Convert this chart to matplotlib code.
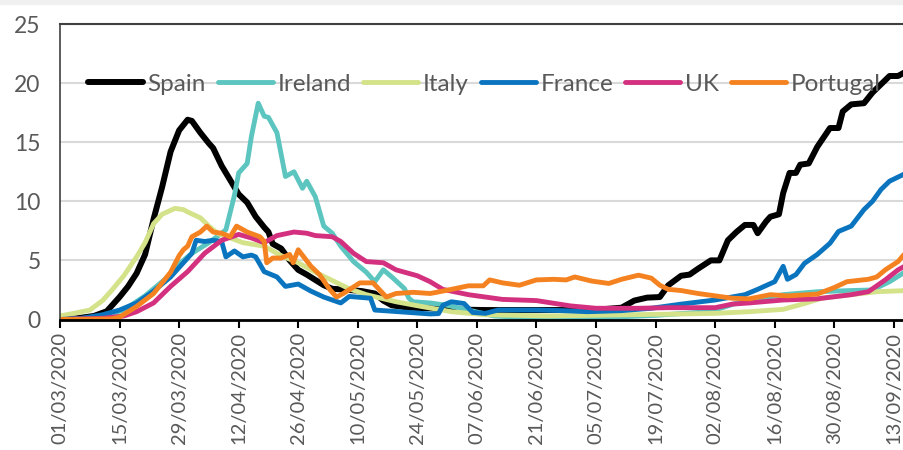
import matplotlib
matplotlib.use("Agg")
from matplotlib import pyplot as plt
from matplotlib.patches import Rectangle

# days since 01/03/2020 and values
spain_day = [0, 4, 8, 11, 14, 16, 18, 20, 22, 24, 26, 28, 30, 31, 33, 35, 36, 38, 40, 42,
             44, 46, 48, 49, 50, 52, 54, 56, 58, 60, 62, 64, 68, 71, 74, 76, 78, 82, 87, 92,
             100, 110, 120, 127, 132, 135, 138, 141, 143, 146, 148, 150, 153, 155, 157, 159,
             161, 163, 164, 166, 167, 169, 170, 171.5, 173, 174, 176, 178, 181, 183, 184, 186,
             189, 191, 193, 195, 197, 199]
spain_val = [0.05, 0.1, 0.3, 0.7, 1.9, 2.8, 3.9, 5.5, 8.5, 11.2, 14.2, 16.0, 16.9, 16.8, 15.8,
             14.9, 14.5, 13.0, 11.8, 10.6, 9.9, 8.7, 7.8, 7.4, 6.4, 6.0, 5.0, 4.2, 3.8, 3.35,
             2.9, 2.6, 2.5, 2.4, 2.2, 1.6, 1.2, 1.0, 0.95, 0.85, 0.8, 0.8, 0.8, 0.85, 1.0, 1.6,
             1.85, 1.9, 2.9, 3.7, 3.8, 4.3, 5.0, 5.0, 6.7, 7.4, 8.0, 8.0, 7.3, 8.3, 8.7, 8.9,
             10.7, 12.4, 12.4, 13.1, 13.2, 14.6, 16.2, 16.2, 17.6, 18.2, 18.3, 19.2, 19.9,
             20.6, 20.6, 21.0]

ireland_day = [0, 5, 10, 15, 20, 25, 28, 31, 35, 38, 39, 41, 42, 44, 45, 46.6, 48, 49, 51, 53,
               55, 57, 58, 60, 62, 64, 66, 69, 72, 74, 76, 78, 81, 82, 83, 87, 91, 96, 102,
               110, 120, 130, 140, 150, 154, 160, 163, 170, 178, 186, 191, 195, 199]
ireland_val = [0, 0.05, 0.3, 0.8, 2.0, 3.5, 4.7, 5.6, 6.5, 7.3, 7.6, 10.5, 12.4, 13.2, 15.5,
               18.3, 17.2, 17.1, 15.8, 12.1, 12.5, 11.1, 11.7, 10.4, 7.9, 7.3, 6.2, 4.9, 4.0,
               3.2, 4.2, 3.6, 2.6, 1.8, 1.5, 1.4, 1.2, 0.8, 0.3, 0.15, 0.1, 0.2, 0.35, 0.6,
               0.8, 1.5, 1.7, 2.1, 2.35, 2.45, 2.5, 3.2, 4.1]

italy_day = [0, 3, 7, 10, 12, 15, 18, 20, 22, 24, 27, 29, 30, 33, 35, 37, 40, 43, 48, 52, 56,
             60, 64, 68, 72, 79, 85, 92, 100, 115, 130, 143, 154, 162, 170, 175, 179, 186,
             192, 199]
italy_val = [0.3, 0.5, 0.8, 1.6, 2.4, 3.7, 5.3, 6.5, 8.1, 8.9, 9.4, 9.3, 9.1, 8.6, 7.9, 7.3,
             6.9, 6.5, 6.2, 5.4, 4.8, 4.0, 3.3, 2.6, 2.1, 1.5, 1.1, 0.66, 0.4, 0.3, 0.38,
             0.45, 0.52, 0.66, 0.86, 1.35, 1.8, 2.1, 2.35, 2.45]

france_day = [0, 5, 10, 14, 18, 22, 26, 29, 31, 32, 34, 36, 38, 39, 41, 43, 45, 46, 48, 51,
              53, 56, 59, 62, 66, 68, 73, 74, 80, 87, 89, 90, 92, 95, 97, 100, 103, 112, 118,
              124, 132, 139, 146, 154, 161, 164, 168, 170, 171, 173, 175, 178, 181, 183, 186,
              189, 191, 193, 195, 199]
france_val = [0, 0.1, 0.4, 0.8, 1.4, 2.4, 3.6, 4.8, 5.6, 6.7, 6.6, 6.7, 6.6, 5.3, 5.8, 5.3,
              5.45, 5.3, 4.05, 3.6, 2.8, 3.0, 2.4, 1.9, 1.4, 1.95, 1.8, 0.8, 0.65, 0.47, 0.5,
              1.2, 1.5, 1.35, 0.6, 0.52, 0.8, 0.8, 0.75, 0.66, 0.75, 0.95, 1.3, 1.65, 2.1,
              2.55, 3.2, 4.5, 3.4, 3.8, 4.75, 5.5, 6.45, 7.45, 7.9, 9.3, 10.0, 11.0, 11.7, 12.4]

uk_day = [0, 10, 15, 18, 22, 26, 30, 34, 38, 42, 45, 48, 51, 55, 58, 60, 64, 66, 69, 72, 76,
          79, 84, 87, 90, 96, 104, 112, 120, 126, 136, 143, 154, 158, 162, 170, 178, 186,
          190, 194, 197, 199]
uk_val = [0, 0.1, 0.3, 0.66, 1.4, 2.8, 4.05, 5.6, 6.7, 7.2, 6.9, 6.5, 7.1, 7.4, 7.3, 7.1, 7.0,
          6.6, 5.6, 4.9, 4.8, 4.2, 3.7, 3.2, 2.55, 2.1, 1.7, 1.6, 1.15, 0.95, 0.95, 1.0, 1.0,
          1.3, 1.4, 1.65, 1.75, 2.1, 2.35, 3.35, 4.2, 4.6]

portugal_day = [0, 12, 14, 18, 22, 26, 28, 29, 30, 31, 33, 34.5, 36, 38, 40, 41.5, 44, 47, 48,
                48.6, 50, 52, 54, 54.8, 56, 59, 61, 63.5, 65, 66.6, 70.5, 73.6, 76.7, 79, 83,
                87, 88.5, 92, 96, 99.5, 101, 104, 108, 112, 116, 119, 121, 125, 129, 132, 136,
                139, 141, 143, 146, 150, 154, 158, 162, 167, 171, 178, 182, 185, 190, 192, 194,
                197, 199]
portugal_val = [0, 0.05, 0.2, 1.1, 2.2, 4.0, 5.4, 5.9, 6.2, 7.0, 7.4, 7.9, 7.4, 7.3, 7.0, 7.9,
                7.4, 7.0, 6.6, 4.8, 5.2, 5.2, 5.5, 4.8, 5.9, 4.5, 3.8, 2.5, 1.9, 2.2, 3.1, 3.1,
                1.9, 2.2, 2.3, 2.2, 2.3, 2.55, 2.85, 2.85, 3.35, 3.1, 2.9, 3.35, 3.4, 3.35, 3.6,
                3.25, 3.05, 3.4, 3.75, 3.5, 2.9, 2.55, 2.45, 2.2, 2.0, 1.8, 1.75, 2.1, 2.0, 2.15,
                2.7, 3.2, 3.4, 3.6, 4.2, 4.9, 5.75]

tick_days = [0, 14, 28, 42, 56, 70, 84, 98, 112, 126, 140, 154, 168, 182, 196]
tick_labels = ["01/03/2020", "15/03/2020", "29/03/2020", "12/04/2020", "26/04/2020",
               "10/05/2020", "24/05/2020", "07/06/2020", "21/06/2020", "05/07/2020",
               "19/07/2020", "02/08/2020", "16/08/2020", "30/08/2020", "13/09/2020"]

plt.rcParams['font.family'] = ['Lato', 'DejaVu Sans']
grey = '#595959'

fig = plt.figure(figsize=(9.04, 4.5), dpi=100)
fig.patches.append(Rectangle((0, 1 - 4 / 450), 1, 4 / 450, transform=fig.transFigure,
                             color='#f0f0f0', zorder=0))
ax = fig.add_axes([60 / 904, 130.5 / 450, 844 / 904, 295.5 / 450])

series = [
    ("Spain", spain_day, spain_val, 'black', 4.3),
    ("Ireland", ireland_day, ireland_val, '#5cc5bf', 3.5),
    ("Italy", italy_day, italy_val, '#d4e28a', 3.5),
    ("France", france_day, france_val, '#0a74bf', 3.5),
    ("UK", uk_day, uk_val, '#d3317f', 3.5),
    ("Portugal", portugal_day, portugal_val, '#f58220', 3.5),
]
for name, d, v, c, lw in series:
    ax.plot(d, v, color=c, lw=lw, label=name, solid_capstyle='round',
            solid_joinstyle='round')

ax.set_xlim(0, 198.4)
ax.set_ylim(0, 25)
ax.set_yticks([0, 5, 10, 15, 20, 25])
ax.set_xticks(tick_days)
ax.set_xticklabels(tick_labels, rotation=90)
ax.grid(axis='y', color='#d9d9d9', lw=1.5)
ax.set_axisbelow(True)

ax.spines['right'].set_visible(False)
ax.spines['top'].set_color('#404040')
ax.spines['top'].set_linewidth(1.5)
ax.spines['left'].set_color('#404040')
ax.spines['left'].set_linewidth(1.2)
ax.spines['bottom'].set_color('black')
ax.spines['bottom'].set_linewidth(2)

ax.tick_params(axis='y', length=0, pad=14, labelsize=16.5, labelcolor=grey)
ax.tick_params(axis='x', length=6, width=1.5, direction='out', pad=3,
               labelsize=14.5, labelcolor=grey)

leg = ax.legend(loc='center left', bbox_to_anchor=(28 / 844, (319.5 - 84) / 295.5),
                ncol=6, frameon=False, fontsize=17.5, handlelength=2.25,
                handletextpad=0.2, columnspacing=0.5, borderpad=0, borderaxespad=0)
for t in leg.get_texts():
    t.set_color(grey)

fig.savefig("out.png", dpi=100)
